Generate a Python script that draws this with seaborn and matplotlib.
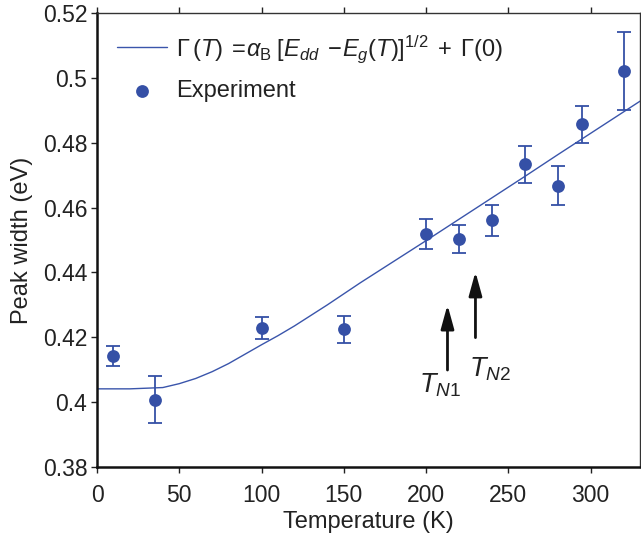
import numpy as np
import pandas as pd
import matplotlib
matplotlib.use("Agg")
import matplotlib.pyplot as plt
import seaborn as sns

# ---- data ----
temp_exp = [10, 35, 100, 150, 200, 220, 240, 260, 280, 295, 320]
width_exp = [0.4142, 0.4007, 0.4228, 0.4225, 0.4518, 0.4503, 0.4561, 0.4733, 0.4667, 0.4857, 0.5022]
err_low = [0.4112, 0.3937, 0.4195, 0.4182, 0.4471, 0.4461, 0.4512, 0.4677, 0.4608, 0.4800, 0.4900]
err_high = [0.4172, 0.4080, 0.4263, 0.4266, 0.4565, 0.4546, 0.4607, 0.4789, 0.4729, 0.4912, 0.5142]

temp_fit = [0, 20, 30, 40, 50, 60, 70, 80, 90, 100, 110, 120, 140, 160, 180,
            200, 220, 240, 260, 280, 300, 320, 330]
width_fit = [0.4041, 0.4041, 0.4043, 0.4045, 0.4057, 0.4073, 0.4094, 0.4119, 0.4148,
             0.4177, 0.4205, 0.4235, 0.4300, 0.4368, 0.4433, 0.4498, 0.4564, 0.4630,
             0.4696, 0.4763, 0.4829, 0.4895, 0.4928]

x_ticks = [0, 50, 100, 150, 200, 250, 300]
y_ticks = [0.38, 0.40, 0.42, 0.44, 0.46, 0.48, 0.50, 0.52]
y_ticklabels = ["0.38", "0.4", "0.42", "0.44", "0.46", "0.48", "0.5", "0.52"]

tn_temps = [213, 230]
tn_tail = [0.4099, 0.4199]
tn_tip = [0.4300, 0.4402]
tn_labels = [r"$T_{N1}$", r"$T_{N2}$"]
tn_label_x = [195.5, 226.0]
tn_label_y = [0.4093, 0.4145]

# ---- style ----
sns.set_theme(style="white")
plt.rcParams["font.family"] = ["Liberation Sans", "DejaVu Sans"]
plt.rcParams["mathtext.fontset"] = "custom"
plt.rcParams["mathtext.rm"] = "Liberation Sans"
plt.rcParams["mathtext.it"] = "Liberation Sans:italic"
plt.rcParams["mathtext.cal"] = "Liberation Serif"

blue = "#3550A6"
line_blue = "#3A55AB"
fs = 17

fig = plt.figure(figsize=(6.41, 5.44), dpi=100)
ax = fig.add_axes([97 / 641, 1 - 467 / 544, 543 / 641, 454 / 544])

df_fit = pd.DataFrame({"T": temp_fit, "G": width_fit})
df_exp = pd.DataFrame({"T": temp_exp, "G": width_exp})

formula = (r"$\mathrm{\Gamma}\,(T)\;=\!\alpha_{\mathrm{B}}\;[E_{dd}\;-\!E_g(T)]^{1/2}"
           r"\;+\;\mathrm{\Gamma}(0)$")
sns.lineplot(data=df_fit, x="T", y="G", ax=ax, color=line_blue, lw=1.0, label=formula)

yerr = np.array([np.array(width_exp) - np.array(err_low),
                 np.array(err_high) - np.array(width_exp)])
ax.errorbar(temp_exp, width_exp, yerr=yerr, fmt="none", ecolor=blue,
            elinewidth=1.3, capsize=5, capthick=1.3, zorder=3)
sns.scatterplot(data=df_exp, x="T", y="G", ax=ax, color=blue, s=85,
                edgecolor=blue, linewidth=0, zorder=4, label="Experiment")

for t, a, b in zip(tn_temps, tn_tail, tn_tip):
    ax.annotate("", xy=(t, b), xytext=(t, a),
                arrowprops=dict(arrowstyle="-|>,head_length=1.2,head_width=0.33",
                                color="#111111", lw=2.0, shrinkA=0, shrinkB=0))
for lx, ly, lab in zip(tn_label_x, tn_label_y, tn_labels):
    ax.text(lx, ly, lab, fontsize=19.5, ha="left", va="top", color="#222222")

ax.set_xlim(0, 330)
ax.set_ylim(0.38, 0.52)
ax.set_xticks(x_ticks)
ax.set_xticklabels([str(v) for v in x_ticks])
ax.set_yticks(y_ticks)
ax.set_yticklabels(y_ticklabels)
ax.set_xlabel("Temperature (K)", fontsize=fs, color="#222222", labelpad=3)
ax.set_ylabel("Peak width (eV)", fontsize=fs, color="#222222", labelpad=7)
ax.tick_params(axis="both", which="both", direction="out", length=4, width=1,
               labelsize=16.5, labelcolor="#222222", color="#222222",
               top=True, right=True, bottom=True, left=True, pad=3)
ax.tick_params(axis="x", pad=8)
for side in ["left", "bottom"]:
    ax.spines[side].set_linewidth(1.8)
    ax.spines[side].set_color("#111111")
for side in ["top", "right"]:
    ax.spines[side].set_linewidth(1.0)
    ax.spines[side].set_color("#333333")

leg = ax.legend(loc="upper left", bbox_to_anchor=(0.0, 1.0), frameon=False,
                fontsize=fs, handlelength=2.1, handletextpad=0.4,
                labelspacing=0.65, borderaxespad=0.45)
for txt in leg.get_texts():
    txt.set_color("#222222")

fig.savefig("out.png", dpi=100)
